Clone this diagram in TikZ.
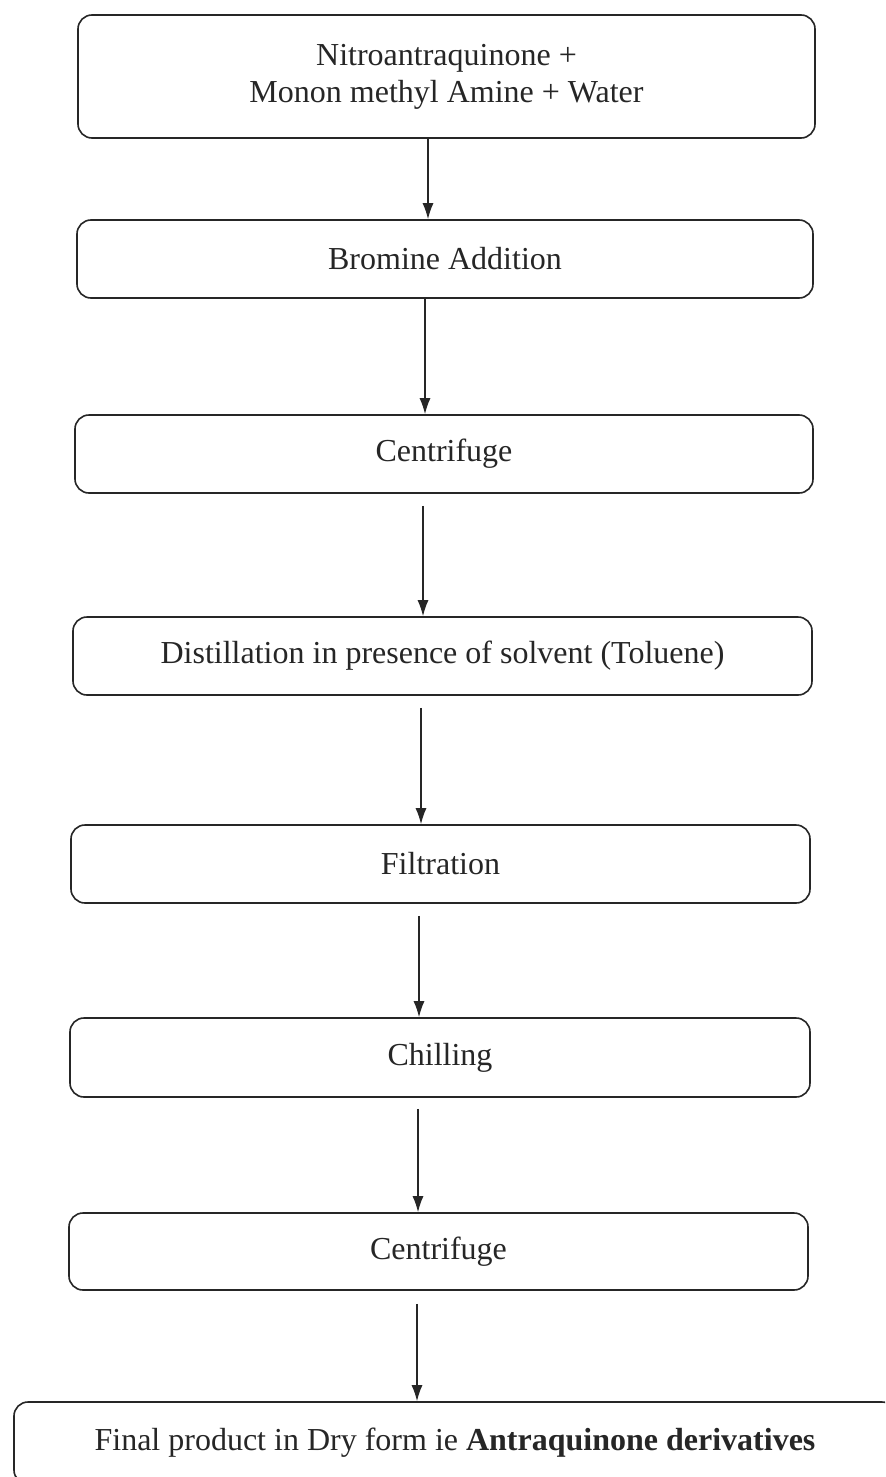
\documentclass[tikz,border=0pt]{standalone}
\usepackage{fontspec}
\setmainfont{Liberation Serif}
\usetikzlibrary{arrows.meta}
\begin{document}
\begin{tikzpicture}[x=0.5pt,y=-0.5pt,
  box/.style={draw=black!85, rounded corners=7pt, line width=0.8pt, inner sep=0pt,
    align=center, text=black!85, font=\fontsize{16}{18.5}\selectfont},
  arr/.style={draw=black!85, line width=0.7pt, -{Latex[length=8pt,width=5.5pt]}}]
\useasboundingbox (0,0) rectangle (885,1477);
\clip (0,0) rectangle (885,1477);
\fill[white] (0,0) rectangle (885,1477);
\node[box, minimum width=368.5pt, minimum height=61.5pt] (b1) at (446.5,76.5)
  {Nitroantraquinone +\\Monon methyl Amine + Water};
\node[box, minimum width=368pt, minimum height=39pt] (b2) at (445,259) {Bromine Addition};
\node[box, minimum width=369pt, minimum height=39pt] (b3) at (444,454) {Centrifuge};
\node[box, minimum width=369.5pt, minimum height=39pt] (b4) at (442.5,656) {Distillation in presence of solvent (Toluene)};
\node[box, minimum width=369.5pt, minimum height=39pt] (b5) at (440.5,864) {Filtration};
\node[box, minimum width=370pt, minimum height=39.5pt] (b6) at (440,1057.5) {Chilling};
\node[box, minimum width=369.5pt, minimum height=38.5pt] (b7) at (438.5,1251.5) {Centrifuge};
\node[box, minimum width=441pt, minimum height=41pt] (b8) at (455,1443) {Final product in Dry form ie \textbf{Antraquinone derivatives}};
\coordinate (c1) at (428,0);
\coordinate (c2) at (425,0);
\coordinate (c3) at (423,0);
\coordinate (c4) at (421,0);
\coordinate (c5) at (419,0);
\coordinate (c6) at (418,0);
\coordinate (c7) at (417,0);
\draw[arr] (b1.south -| c1) -- (b2.north -| c1);
\draw[arr] (b2.south -| c2) -- (b3.north -| c2);
\draw[arr, shorten <=6pt] (b3.south -| c3) -- (b4.north -| c3);
\draw[arr, shorten <=6pt] (b4.south -| c4) -- (b5.north -| c4);
\draw[arr, shorten <=6pt] (b5.south -| c5) -- (b6.north -| c5);
\draw[arr, shorten <=5.5pt] (b6.south -| c6) -- (b7.north -| c6);
\draw[arr, shorten <=6.5pt] (b7.south -| c7) -- (b8.north -| c7);
\end{tikzpicture}
\end{document}
